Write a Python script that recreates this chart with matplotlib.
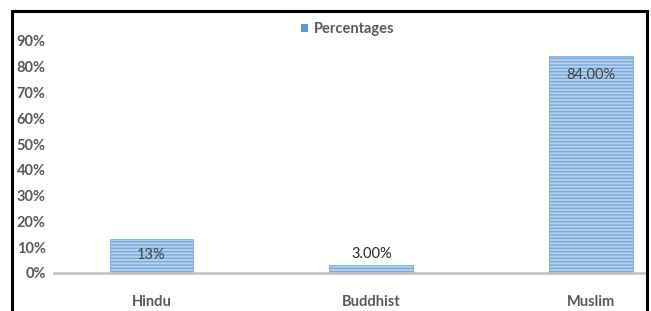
import matplotlib.pyplot as plt
from matplotlib.patches import Rectangle

# data
categories = ["Hindu", "Buddhist", "Muslim"]
values = [13, 3, 84]
value_labels = ["13%", "3.00%", "84.00%"]
yticks = [0, 10, 20, 30, 40, 50, 60, 70, 80, 90]

plt.rcParams['font.family'] = ['Lato', 'DejaVu Sans']
plt.rcParams['hatch.color'] = '#5b9bd5'
plt.rcParams['hatch.linewidth'] = 1.0

W, H = 651, 311
fig = plt.figure(figsize=(W / 100, H / 100), dpi=100)

# axes: 0% at y=273, 90% at y=41; left edge x=54, right edge x=646
ax = fig.add_axes([54 / W, (H - 273) / H, (646 - 54) / W, (273 - 41) / H])
x = list(range(len(categories)))
bars = ax.bar(x, values, width=0.38, color='#b4d2ee', edgecolor='#7aa9d8',
              linewidth=0.6, hatch='-----')

# x data: center 0 at px 151.5, spacing 219.75
ax.set_xlim((54 - 151.5) / 219.75, (646 - 151.5) / 219.75)
ax.set_ylim(0, 90)
ax.set_yticks(yticks)
ax.set_yticklabels([f"{t}%" for t in yticks], fontsize=10.5, fontweight='bold',
                   color='#595959')
ax.set_xticks(x)
ax.set_xticklabels(categories, fontsize=10.5, fontweight='bold', color='#595959')
ax.tick_params(axis='both', length=0)
ax.tick_params(axis='y', pad=6)
ax.tick_params(axis='x', pad=16)
for s in ['top', 'right', 'left']:
    ax.spines[s].set_visible(False)
ax.spines['bottom'].set_color('#bfbfbf')
ax.spines['bottom'].set_linewidth(1.8)

# data labels
ax.text(x[0], values[0] / 2 + 0.5, value_labels[0], ha='center', va='center',
        fontsize=10.5, color='#404040')
ax.text(x[1], values[1] + 1.5, value_labels[1], ha='center', va='bottom',
        fontsize=10.5, color='#262626')
ax.text(x[2], values[2] - 7, value_labels[2], ha='center', va='center',
        fontsize=10.5, color='#404040')

# legend
handle = Rectangle((0, 0), 1, 1, facecolor='#5b9bd5', edgecolor='none')
ax.legend([handle], ["Percentages"], loc='upper center',
          bbox_to_anchor=(348 / W, 1 - 9 / H),
          bbox_transform=fig.transFigure, frameon=False,
          handlelength=0.5, handleheight=0.5, handletextpad=0.4,
          prop={'weight': 'bold', 'size': 10.5}, labelcolor='#595959')

# outer black frame
fig.patches.append(Rectangle((12 / W, -0.05), (647 - 12) / W, 1.05 - 11 / H,
                             transform=fig.transFigure, fill=False,
                             edgecolor='black', linewidth=2.2))

plt.savefig("out.png", dpi=100)
